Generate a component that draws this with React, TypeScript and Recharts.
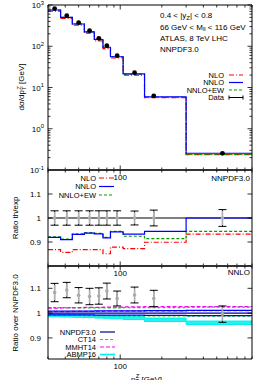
import React from 'react';
import { ComposedChart, Line, Scatter, XAxis, YAxis, ErrorBar, Area, ReferenceLine } from 'recharts';

// ---------- data ----------
const binEdges = [30, 37, 45, 55, 65, 75, 85, 105, 150, 300, 900];
const dataPt = [33.5, 41, 50, 60, 70, 80, 95, 127, 175, 550];
const dataXs = [820, 551, 372, 238, 156, 103, 59, 22.9, 6.3, 0.254];
const nloXs = [712, 472, 323, 207, 135, 87.7, 51.9, 20.0, 5.66, 0.237];
const nnloXs = [754, 501, 347, 223, 146, 94.5, 55.6, 21.4, 5.95, 0.254];
const ewXs = [756, 503, 348, 224, 147, 95.0, 55.8, 21.2, 5.76, 0.24];

const nloRatio = [0.868, 0.857, 0.868, 0.868, 0.868, 0.851, 0.879, 0.872, 0.899, 0.933];
const nnloRatio = [0.919, 0.91, 0.932, 0.937, 0.934, 0.917, 0.942, 0.933, 0.944, 1.0];
const ewRatio = [0.921, 0.912, 0.934, 0.939, 0.936, 0.919, 0.944, 0.924, 0.914, 0.944];
const ratioErr = [0.03, 0.03, 0.03, 0.03, 0.03, 0.03, 0.03, 0.029, 0.033, 0.035];
const ratioErrInner = [0.025, 0.025, 0.025, 0.025, 0.025, 0.025, 0.025, 0.024, 0.028, 0.03];

const dataOverNnpdf = [1.083, 1.093, 1.072, 1.067, 1.069, 1.089, 1.059, 1.073, 1.059, 0.996];
const dataOverNnpdfErr = [0.037, 0.031, 0.031, 0.033, 0.033, 0.032, 0.03, 0.032, 0.033, 0.033];
const dataOverNnpdfErrInner = [0.031, 0.026, 0.026, 0.028, 0.028, 0.027, 0.025, 0.027, 0.028, 0.028];

const nnpdfC = [1, 1, 1, 1, 1, 1, 1, 1, 1, 1];
const nnpdfHi = [1.008, 1.008, 1.008, 1.008, 1.009, 1.009, 1.009, 1.009, 1.01, 1.011];
const nnpdfLo = [0.993, 0.993, 0.993, 0.993, 0.992, 0.992, 0.992, 0.992, 0.991, 0.99];
const ct14Hi = [1.022, 1.022, 1.021, 1.021, 1.021, 1.021, 1.021, 1.022, 1.022, 1.024];
const ct14Lo = [0.991, 0.991, 0.991, 0.99, 0.99, 0.99, 0.99, 0.99, 0.989, 0.988];
const mmhtHi = [1.02, 1.021, 1.022, 1.023, 1.023, 1.024, 1.024, 1.025, 1.026, 1.026];
const mmhtLo = [1.006, 1.006, 1.007, 1.007, 1.007, 1.008, 1.008, 1.008, 1.009, 1.01];
const abmpHi = [0.996, 0.995, 0.994, 0.993, 0.991, 0.99, 0.988, 0.986, 0.98, 0.968];
const abmpLo = [0.985, 0.984, 0.983, 0.982, 0.98, 0.979, 0.977, 0.974, 0.966, 0.954];

const xTicks = [30, 40, 50, 60, 70, 80, 90, 100, 200, 300, 400, 500, 600, 700, 800, 900];
const logYTicks = [
  0.1, 0.2, 0.3, 0.4, 0.5, 0.6, 0.7, 0.8, 0.9,
  1, 2, 3, 4, 5, 6, 7, 8, 9,
  10, 20, 30, 40, 50, 60, 70, 80, 90,
  100, 200, 300, 400, 500, 600, 700, 800, 900, 1000,
];
const ratioTicks = [0.9, 1, 1.1];

// ---------- helpers ----------
const step = (vals: number[]) => binEdges.map((x, i) => ({ x, y: vals[Math.min(i, vals.length - 1)] }));
const band = (lo: number[], hi: number[]) =>
  binEdges.map((x, i) => { const k = Math.min(i, lo.length - 1); return { x, r: [lo[k], hi[k]] }; });
const pts = (ys: number[], e?: number[], e2?: number[]) =>
  dataPt.map((x, i) => ({ x, y: ys[i], e: e ? e[i] : 0, e2: e2 ? e2[i] : 0 }));

const F = "'Liberation Sans', Arial, Helvetica, sans-serif";
const FS = 8;
const LFS = 7.5;

const isMajorLog = (v: number) => { const l = Math.log10(v); return Math.abs(l - Math.round(l)) < 1e-6; };

const YTickL = (props: any) => {
  const { x, y, payload, kind } = props;
  const v = payload.value;
  const major = kind === 'log' ? isMajorLog(v) : true;
  let label: any = null;
  if (kind === 'log' && major) {
    label = (<>10<tspan dy={-3.5} fontSize={5.8}>{Math.round(Math.log10(v))}</tspan></>);
  } else if (kind !== 'log') {
    label = String(v);
  }
  return (
    <g>
      <line x1={x} x2={x + (major ? 4.5 : 2.5)} y1={y} y2={y} stroke="#000" strokeWidth={0.8} />
      {label !== null && (
        <text x={kind === 'log' ? x - 4 : x - 7} y={y + 3} textAnchor="end" fontSize={FS} fontFamily={F} fill="#000">{label}</text>
      )}
    </g>
  );
};
const YTickR = (props: any) => {
  const { x, y, payload, kind } = props;
  const major = kind === 'log' ? isMajorLog(payload.value) : true;
  return <line x1={x} x2={x - (major ? 4.5 : 2.5)} y1={y} y2={y} stroke="#000" strokeWidth={0.8} />;
};
const XTickB = (props: any) => {
  const { x, y, payload } = props;
  const v = payload.value;
  const major = v === 100;
  return (
    <g>
      <line x1={x} x2={x} y1={y} y2={y - (major ? 4.5 : 2.5)} stroke="#000" strokeWidth={0.8} />
      {major && <text x={x} y={y + 9.5} textAnchor="middle" fontSize={FS} fontFamily={F} fill="#000">100</text>}
    </g>
  );
};
const XTickT = (props: any) => {
  const { x, y, payload } = props;
  const major = payload.value === 100;
  return <line x1={x} x2={x} y1={y} y2={y + (major ? 4.5 : 2.5)} stroke="#000" strokeWidth={0.8} />;
};

const W = 266, H = 380;

function frame(kind: string, domain: any, ticks: number[], topW: number, botW: number, botColor: string, topColor: string) {
  return [
    <XAxis key="xb" xAxisId={0} dataKey="x" type="number" scale="log" domain={[30, 900]} allowDataOverflow
      ticks={xTicks} height={1} tickSize={0} tickMargin={0} interval={0}
      axisLine={{ stroke: botColor, strokeWidth: botW }} tickLine={false} tick={<XTickB />} />,
    <XAxis key="xt" xAxisId="t" orientation="top" dataKey="x" type="number" scale="log" domain={[30, 900]} allowDataOverflow
      ticks={xTicks} height={1} tickSize={0} tickMargin={0} interval={0}
      axisLine={{ stroke: topColor, strokeWidth: topW }} tickLine={false} tick={<XTickT />} />,
    <YAxis key="yl" yAxisId={0} type="number" scale={kind === 'log' ? 'log' : 'linear'} domain={domain} allowDataOverflow
      ticks={ticks} width={48} tickSize={0} tickMargin={0} interval={0}
      axisLine={{ stroke: '#000', strokeWidth: 1 }} tickLine={false} tick={<YTickL kind={kind} />} />,
    <YAxis key="yr" yAxisId="r" orientation="right" type="number" scale={kind === 'log' ? 'log' : 'linear'} domain={domain} allowDataOverflow
      ticks={ticks} width={14} tickSize={0} tickMargin={0} interval={0}
      axisLine={{ stroke: '#000', strokeWidth: 1 }} tickLine={false} tick={<YTickR kind={kind} />} />,
  ];
}

const dot = (fill: string, r: number) => (p: any) => <circle cx={p.cx} cy={p.cy} r={r} fill={fill} />;

const RED = '#ff0000', BLUE = '#0000ff', GREEN = '#009e00', NAVY = '#000090', MAG = '#ff00ff', CYAN = '#00eeee', CTG = '#22cc22';

export default function App() {
  const pos: React.CSSProperties = { position: 'absolute', left: 0, top: 0 };
  return (
    <div style={{ position: 'absolute', left: 0, top: 0, width: W, height: H, background: '#fff', overflow: 'hidden' }}>
      {/* Panel 1: cross section */}
      <div style={pos}>
        <ComposedChart width={W} height={H} margin={{ top: 4, right: 0, bottom: H - 171, left: 0 }}>
          {frame('log', [0.1, 1000], logYTicks, 1.2, 1.8, '#333', '#000')}
          <Line data={step(nloXs)} dataKey="y" type="stepAfter" stroke={RED} strokeWidth={1.2} strokeDasharray="5 2 1 2" dot={false} isAnimationActive={false} />
          <Line data={step(ewXs)} dataKey="y" type="stepAfter" stroke={GREEN} strokeWidth={1.2} strokeDasharray="3 2" dot={false} isAnimationActive={false} />
          <Line data={step(nnloXs)} dataKey="y" type="stepAfter" stroke={BLUE} strokeWidth={1.1} dot={false} isAnimationActive={false} />
          <Scatter data={pts(dataXs)} dataKey="y" shape={dot('#000', 2.4)} isAnimationActive={false} />
        </ComposedChart>
      </div>
      {/* Panel 2: ratio th/exp */}
      <div style={pos}>
        <ComposedChart width={W} height={H} margin={{ top: 169, right: 0, bottom: H - 267, left: 0 }}>
          {frame('lin', [0.8, 1.2], ratioTicks, 1.8, 1.8, '#333', '#333')}
          <ReferenceLine y={1} stroke="#000" strokeWidth={1.2} />
          <Line data={step(nloRatio)} dataKey="y" type="stepAfter" stroke={RED} strokeWidth={1.2} strokeDasharray="5 2 1 2" dot={false} isAnimationActive={false} />
          <Line data={step(ewRatio)} dataKey="y" type="stepAfter" stroke={GREEN} strokeWidth={1.2} strokeDasharray="3 2" dot={false} isAnimationActive={false} />
          <Line data={step(nnloRatio)} dataKey="y" type="stepAfter" stroke={BLUE} strokeWidth={1.2} dot={false} isAnimationActive={false} />
          <Scatter data={pts(nnpdfC, ratioErr, ratioErrInner)} dataKey="y" shape={dot('#aaa', 1.8)} isAnimationActive={false}>
            <ErrorBar dataKey="e" direction="y" width={4} stroke="#000" strokeWidth={1} />
            <ErrorBar dataKey="e2" direction="y" width={0} stroke="#b0b0b0" strokeWidth={1.6} />
          </Scatter>
        </ComposedChart>
      </div>
      {/* Panel 3: ratio over NNPDF3.0 */}
      <div style={pos}>
        <ComposedChart width={W} height={H} margin={{ top: 265, right: 0, bottom: H - 360, left: 0 }}>
          {frame('lin', [0.815, 1.19], ratioTicks, 1.8, 1, '#000', '#333')}
          <Area data={band(abmpLo, abmpHi)} dataKey="r" type="stepAfter" stroke={CYAN} strokeWidth={1} fill={CYAN} fillOpacity={0.85} isAnimationActive={false} />
          <Line data={step(ct14Lo)} dataKey="y" type="stepAfter" stroke={CTG} strokeWidth={1.2} strokeDasharray="3 2" dot={false} isAnimationActive={false} />
          <Line data={step(mmhtLo)} dataKey="y" type="stepAfter" stroke={MAG} strokeWidth={1.2} strokeDasharray="4 2" dot={false} isAnimationActive={false} />
          <Line data={step(nnpdfLo)} dataKey="y" type="stepAfter" stroke={BLUE} strokeWidth={1.1} dot={false} isAnimationActive={false} />
          <Line data={step(nnpdfHi)} dataKey="y" type="stepAfter" stroke={BLUE} strokeWidth={1.1} dot={false} isAnimationActive={false} />
          <Line data={step(nnpdfC)} dataKey="y" type="stepAfter" stroke={NAVY} strokeWidth={1.2} dot={false} isAnimationActive={false} />
          <Line data={step(ct14Hi)} dataKey="y" type="stepAfter" stroke={CTG} strokeWidth={1.2} strokeDasharray="3 2" dot={false} isAnimationActive={false} />
          <Line data={step(mmhtHi)} dataKey="y" type="stepAfter" stroke={MAG} strokeWidth={1.2} strokeDasharray="4 2" dot={false} isAnimationActive={false} />
          <Scatter data={pts(dataOverNnpdf, dataOverNnpdfErr, dataOverNnpdfErrInner)} dataKey="y" shape={dot('#aaa', 1.8)} isAnimationActive={false}>
            <ErrorBar dataKey="e" direction="y" width={4} stroke="#000" strokeWidth={1} />
            <ErrorBar dataKey="e2" direction="y" width={0} stroke="#b0b0b0" strokeWidth={1.6} />
          </Scatter>
        </ComposedChart>
      </div>
      {/* Text, legends, titles */}
      <svg width={W} height={H} style={pos} fontFamily={F} fontSize={FS} fill="#000">
        <text x={160} y={18}>0.4 &lt; |y<tspan dy={1.8} fontSize={6}>Z</tspan><tspan dy={-1.8}>| &lt; 0.8</tspan></text>
        <text x={160} y={29.5}>66 GeV &lt; M<tspan dy={1.8} fontSize={6}>ll</tspan><tspan dy={-1.8}> &lt; 116 GeV</tspan></text>
        <text x={160} y={41}>ATLAS, 8 TeV LHC</text>
        <text x={160} y={52}>NNPDF3.0</text>

        <g fontSize={LFS}>
          <text x={224} y={77.5} textAnchor="end">NLO</text>
          <text x={224} y={85} textAnchor="end">NNLO</text>
          <text x={224} y={92.5} textAnchor="end">NNLO+EW</text>
          <text x={224} y={100} textAnchor="end">Data</text>
        </g>
        <line x1={229} x2={243} y1={75} y2={75} stroke={RED} strokeWidth={1.2} strokeDasharray="5 2 1 2" />
        <line x1={229} x2={243} y1={82.5} y2={82.5} stroke={BLUE} strokeWidth={1.2} />
        <line x1={229} x2={243} y1={90} y2={90} stroke={GREEN} strokeWidth={1.2} strokeDasharray="3 2" />
        <line x1={229} x2={243} y1={97.5} y2={97.5} stroke="#000" strokeWidth={1} />
        <line x1={229} x2={229} y1={95.5} y2={99.5} stroke="#000" strokeWidth={1} />
        <line x1={243} x2={243} y1={95.5} y2={99.5} stroke="#000" strokeWidth={1} />

        <text x={250} y={181} textAnchor="end">NNPDF3.0</text>
        <g fontSize={LFS}>
          <text x={96} y={180.5} textAnchor="end">NLO</text>
          <text x={96} y={189} textAnchor="end">NNLO</text>
          <text x={96} y={197.5} textAnchor="end">NNLO+EW</text>
        </g>
        <line x1={99} x2={114} y1={178} y2={178} stroke={RED} strokeWidth={1.2} strokeDasharray="5 2 1 2" />
        <line x1={99} x2={114} y1={186.5} y2={186.5} stroke={BLUE} strokeWidth={1.2} />
        <line x1={99} x2={114} y1={195} y2={195} stroke={GREEN} strokeWidth={1.2} strokeDasharray="3 2" />

        <text x={250} y={275} textAnchor="end">NNLO</text>
        <g fontSize={LFS}>
          <text x={96} y={334.5} textAnchor="end">NNPDF3.0</text>
          <text x={96} y={342} textAnchor="end">CT14</text>
          <text x={96} y={349.5} textAnchor="end">MMHT14</text>
          <text x={96} y={357} textAnchor="end">ABMP16</text>
        </g>
        <line x1={100} x2={115} y1={332} y2={332} stroke={NAVY} strokeWidth={1.2} />
        <line x1={100} x2={115} y1={339.5} y2={339.5} stroke={CTG} strokeWidth={1.2} strokeDasharray="3 2" />
        <line x1={100} x2={115} y1={347} y2={347} stroke={MAG} strokeWidth={1.2} strokeDasharray="4 2" />
        <line x1={100} x2={115} y1={354.5} y2={354.5} stroke={CYAN} strokeWidth={1.6} />

        <text transform="translate(24,87) rotate(-90)" textAnchor="middle">dσ/dp<tspan dy={1.8} fontSize={6}>T</tspan><tspan dy={-5} dx={-3.4} fontSize={6}>Z</tspan><tspan dy={3.2}> [GeV]</tspan></text>
        <text transform="translate(18,218) rotate(-90)" textAnchor="middle">Ratio th/exp</text>
        <text transform="translate(18,313) rotate(-90)" textAnchor="middle">Ratio over NNPDF3.0</text>
        <text x={131} y={381.5}>p<tspan dy={1.8} fontSize={6}>T</tspan><tspan dy={-5} dx={-3.4} fontSize={6}>Z</tspan><tspan dy={3.2}> [GeV]</tspan></text>
      </svg>
    </div>
  );
}
